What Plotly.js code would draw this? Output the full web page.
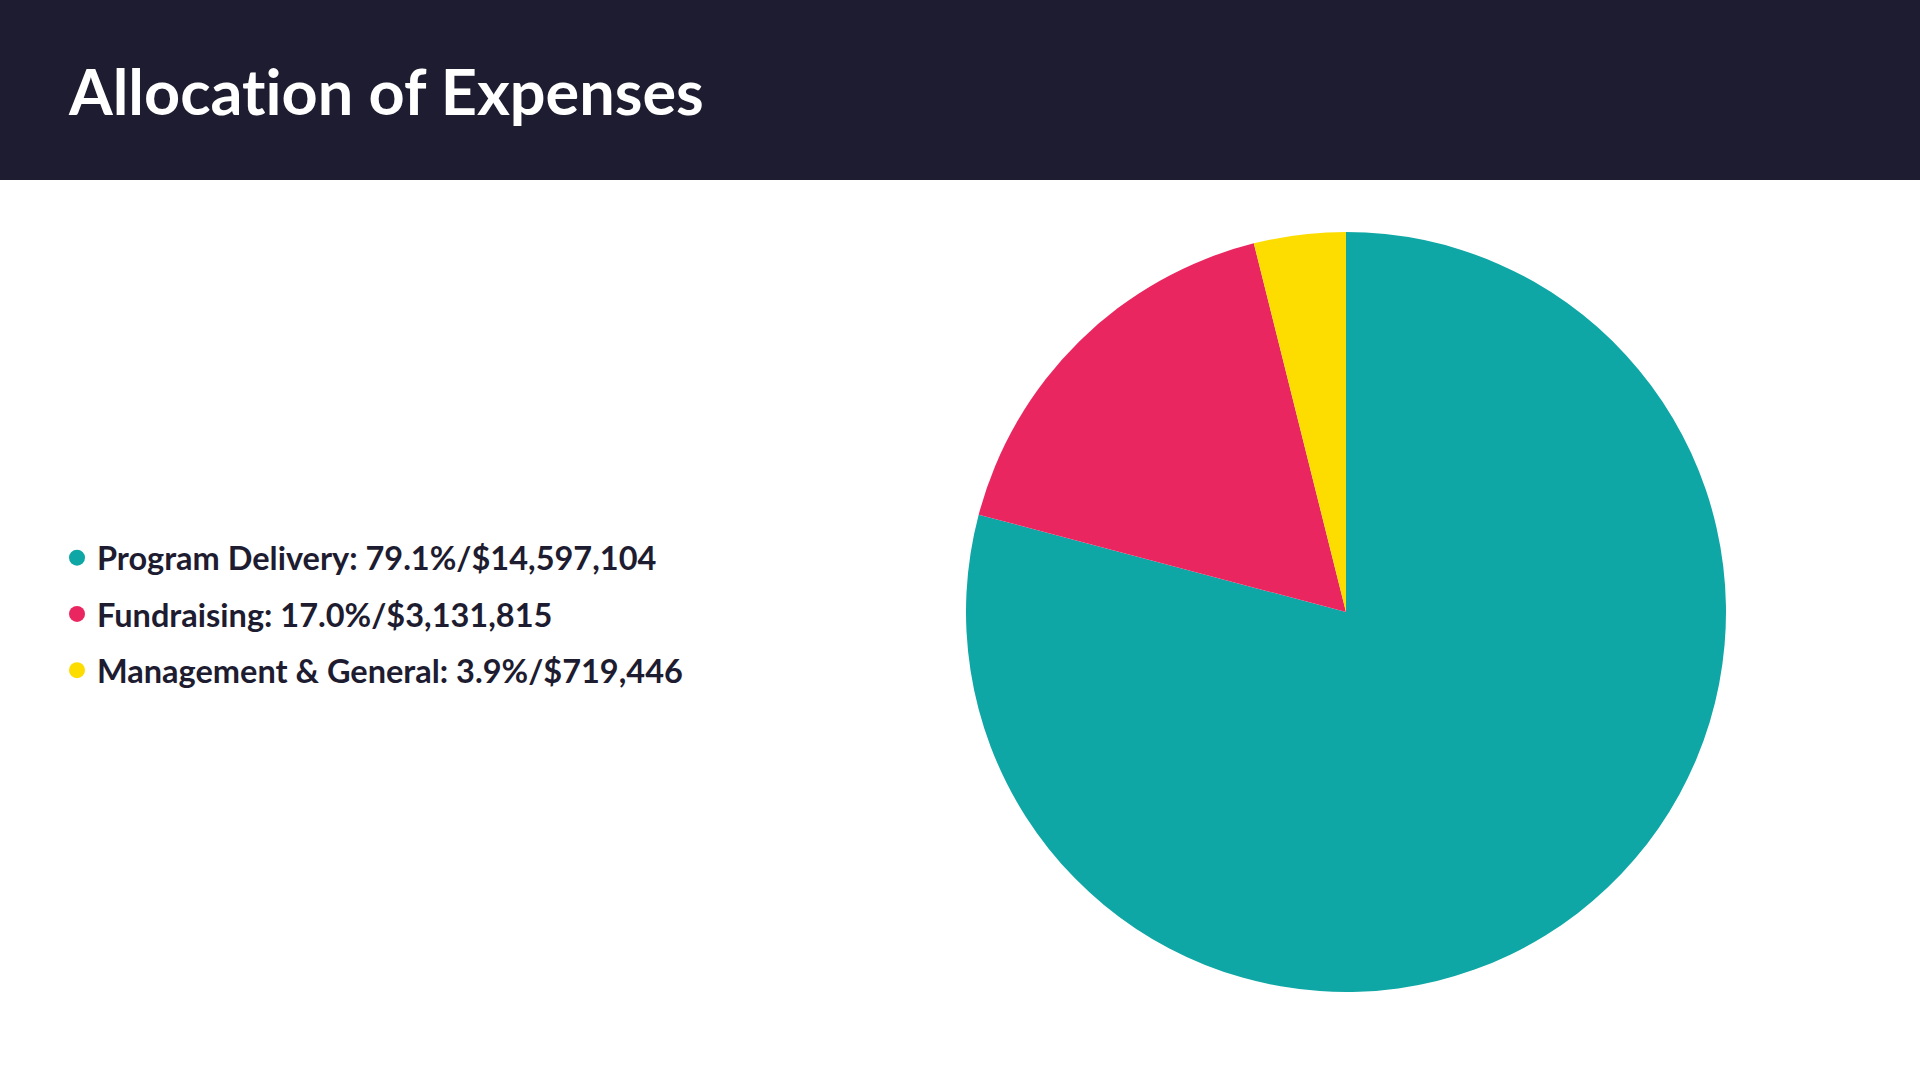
<!DOCTYPE html>
<html>
<head>
<meta charset="utf-8">
<script src="https://cdn.plot.ly/plotly-3.0.1.min.js"></script>
<style>
html,body{margin:0;padding:0;background:#fff;}
#chart{width:1920px;height:1080px;}
svg text{font-variant-ligatures:none;font-feature-settings:"liga" 0;}
</style>
</head>
<body>
<div id="chart"></div>
<script>
const categories = ["Program Delivery", "Fundraising", "Management & General"];
const amounts = [14597104, 3131815, 719446];
const percentLabels = ["79.1%", "17.0%", "3.9%"];
const amountLabels = ["$14,597,104", "$3,131,815", "$719,446"];
const colors = ["#0ea7a5", "#ea2660", "#fddc00"];
const titleText = "Allocation of Expenses";

const dark = "#1e1c30";

const pie = {
  type: "pie",
  labels: categories,
  values: amounts,
  marker: {colors: colors, line: {width: 0}},
  sort: false,
  direction: "clockwise",
  rotation: 0,
  textinfo: "none",
  hoverinfo: "label+percent+value",
  showlegend: false,
  domain: {x: [966/1920, 1726/1920], y: [88/1080, 848/1080]}
};

const legendTraces = categories.map((c, i) => ({
  type: "scatter",
  mode: "markers",
  x: [null], y: [null],
  name: "<b>" + c + ": " + percentLabels[i] + "/" + amountLabels[i] + "</b>",
  legendgroup: "g" + i,
  marker: {color: colors[i], size: 16, symbol: "circle"},
  showlegend: true
}));

const layout = {
  width: 1920, height: 1080,
  margin: {l: 0, r: 0, t: 0, b: 0},
  paper_bgcolor: "#ffffff",
  plot_bgcolor: "rgba(0,0,0,0)",
  xaxis: {visible: false, domain: [0, 0.01]},
  yaxis: {visible: false, domain: [0, 0.01]},
  title: {
    text: "<b>" + titleText + "</b>",
    font: {family: "Lato", size: 63, color: "#ffffff"},
    x: 69/1920, xanchor: "left", xref: "paper",
    y: 1 - 93/1080, yanchor: "middle", yref: "paper"
  },
  shapes: [{
    type: "rect", xref: "paper", yref: "paper",
    x0: 0, x1: 1, y0: 1 - 180/1080, y1: 1,
    fillcolor: dark, line: {width: 0}, layer: "below"
  }],
  showlegend: true,
  legend: {
    x: 57/1920, xanchor: "left",
    y: 1 - 614/1080, yanchor: "middle",
    font: {family: "Lato", size: 32.5, color: dark},
    tracegroupgap: 11,
    bgcolor: "rgba(0,0,0,0)",
    itemclick: false, itemdoubleclick: false
  }
};

Plotly.newPlot("chart", [pie].concat(legendTraces), layout, {displayModeBar: false, staticPlot: true});
</script>
</body>
</html>
